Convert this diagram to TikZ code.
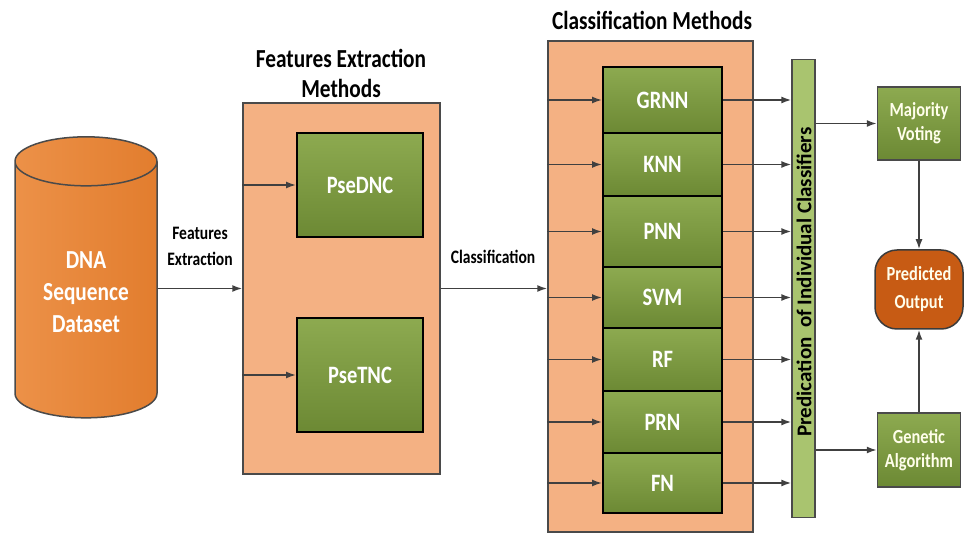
\documentclass[tikz,border=0pt]{standalone}
\usepackage{fontspec}
\setmainfont{Carlito}[FakeStretch=0.82]
\newfontfamily\tubefont{Carlito}
\usetikzlibrary{shapes.geometric,arrows.meta}
\definecolor{panelfill}{HTML}{F4B183}
\definecolor{panelline}{HTML}{4A4A4A}
\definecolor{gtop}{HTML}{8DAA50}
\definecolor{gbot}{HTML}{6C8934}
\definecolor{dnaleft}{HTML}{EC9148}
\definecolor{dnaright}{HTML}{E27D2E}
\definecolor{tubefill}{HTML}{A9C46F}
\definecolor{outfill}{HTML}{C75B14}
\definecolor{arrowcol}{HTML}{404040}
\tikzset{
    every node/.style={font=\bfseries, align=center, inner sep=1pt},
    panel/.style={draw=panelline, fill=panelfill, line width=1.5pt},
    method/.style={draw=black, line width=2pt, top color=gtop, bottom color=gbot,
    	text=white, font=\bfseries\fontsize{25}{29}\selectfont},
    final/.style={draw=panelline, line width=1.5pt, top color=gtop, bottom color=gbot,
    	text=white!92!yellow, minimum width=83pt, font=\bfseries\fontsize{20}{24}\selectfont}
}
\tikzset{
    every edge/.append style={-{Latex[length=10pt,width=7pt]}, draw=arrowcol, line width=1.6pt}
}

\begin{document}
\begin{tikzpicture}[x=1pt, y=-1pt]
	\useasboundingbox (0,0) rectangle (975,534);
	% source data
	\node (dna) [shape=cylinder, shape border rotate=90, aspect=0.56, minimum width=142pt,
		minimum height=281pt, draw=panelline, left color=dnaleft, right color=dnaright,
		line width=1.5pt, text=white, font=\bfseries\fontsize{26}{32}\selectfont]
		at (86,292) {DNA\\Sequence\\Dataset};
	\node (felbl) [font=\bfseries\fontsize{19}{26}\selectfont] at (200,246) {Features\\Extraction};

	% feature extraction
	\node (fem) [panel, minimum width=197pt, minimum height=371pt] at (341.5,288.5) {};
	\node (femt) [font=\bfseries\fontsize{26}{30}\selectfont] at (341,73) {Features Extraction\\Methods};
	\node (pdnc) [method, minimum width=126pt, minimum height=104pt] at (360,185) {PseDNC};
	\node (ptnc) [method, minimum width=126pt, minimum height=114pt] at (360,375) {PseTNC};
	\node (cllbl) [font=\bfseries\fontsize{19}{24}\selectfont] at (493,257) {Classification};

	% classifiers
	\node (cm) [panel, minimum width=205pt, minimum height=491pt] at (650.5,286.5) {};
	\node (cmt) [font=\bfseries\fontsize{26}{30}\selectfont] at (652,20) {Classification Methods};
	\node (grnn) [method, minimum width=119pt, minimum height=66pt] at (662.5,100) {GRNN};
	\node (knn) [method, minimum width=119pt, minimum height=63pt] at (662.5,164.5) {KNN};
	\node (pnn) [method, minimum width=119pt, minimum height=71pt] at (662.5,231.5) {PNN};
	\node (svm) [method, minimum width=119pt, minimum height=61pt] at (662.5,297.5) {SVM};
	\node (rf) [method, minimum width=119pt, minimum height=63pt] at (662.5,359.5) {RF};
	\node (prn) [method, minimum width=119pt, minimum height=62pt] at (662.5,422) {PRN};
	\node (fn) [method, minimum width=119pt, minimum height=60pt] at (662.5,483) {FN};

	% combination
	\node (pic) [shape=cylinder, shape border rotate=90, aspect=1.1, minimum width=23pt,
		minimum height=458pt, inner sep=0pt, draw=panelline, fill=tubefill, line width=1.3pt]
		at (803.5,289) {};
	\node (pict) [rotate=90, font=\tubefont\bfseries\fontsize{21}{21}\selectfont] at (804,282)
		{Predication\ \ of Individual Classifiers};
	\node (mv) [final, minimum height=73pt] at (919,123.5) {Majority\\Voting};
	\node (po) [rounded corners=22pt, draw=panelline!80!black, line width=1.5pt, fill=outfill,
		minimum width=88pt, minimum height=79pt, text=white!92!yellow,
		font=\bfseries\fontsize{20}{28}\selectfont] at (919,289.5) {Predicted\\Output};
	\node (ga) [final, minimum height=74pt] at (919,450) {Genetic\\Algorithm};

	\draw (dna.east |- fem.west) edge (fem.west);
	\draw (pdnc.west -| fem.west) edge (pdnc.west); \draw (ptnc.west -| fem.west) edge (ptnc.west);
	\draw (fem.east) edge (fem.east -| cm.west);

	\draw (grnn.west -| cm.west) edge (grnn.west); \draw (knn.west -| cm.west) edge (knn.west);
	\draw (pnn.west -| cm.west) edge (pnn.west); \draw (svm.west -| cm.west) edge (svm.west);
	\draw (rf.west -| cm.west) edge (rf.west); \draw (prn.west -| cm.west) edge (prn.west);
	\draw (fn.west -| cm.west) edge (fn.west);

	\draw (grnn.east) edge (grnn.east -| pic.west); \draw (knn.east) edge (knn.east -| pic.west);
	\draw (pnn.east) edge (pnn.east -| pic.west); \draw (svm.east) edge (svm.east -| pic.west);
	\draw (rf.east) edge (rf.east -| pic.west); \draw (prn.east) edge (prn.east -| pic.west);
	\draw (fn.east) edge (fn.east -| pic.west);

	\draw (mv.west -| pic.east) edge (mv.west); \draw (ga.west -| pic.east) edge (ga.west);
	\draw (mv.south) edge (po.north); \draw (ga.north) edge (po.south);
\end{tikzpicture}
\end{document}
